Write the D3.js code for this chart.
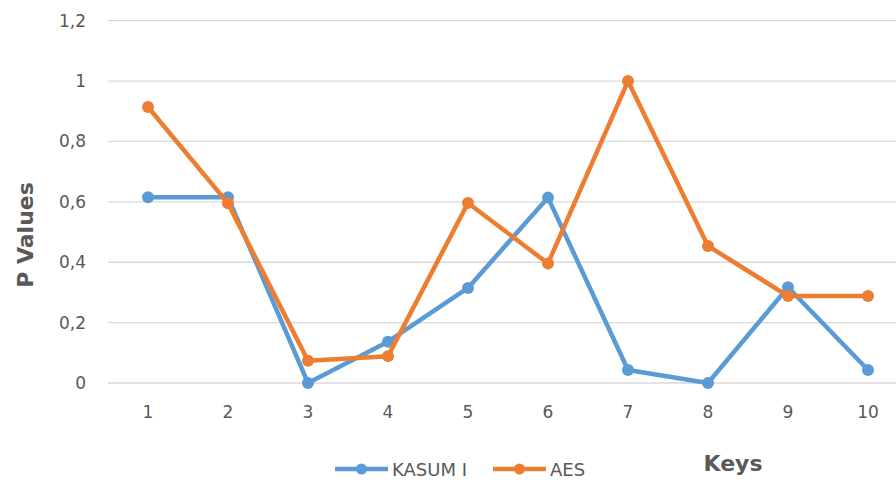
<!DOCTYPE html>
<html>
<head>
<meta charset="utf-8">
<script src="https://cdn.jsdelivr.net/npm/d3@7"></script>
<style>
  html, body { margin: 0; padding: 0; background: #fff; }
  svg { display: block; }
</style>
</head>
<body>
<svg id="chart" width="896" height="484"></svg>
<script>
  // chart data
  const keys = [1, 2, 3, 4, 5, 6, 7, 8, 9, 10];
  const kasumi = [0.615, 0.615, 0.0, 0.137, 0.315, 0.614, 0.043, 0.0, 0.317, 0.043];
  const aes = [0.914, 0.595, 0.074, 0.089, 0.596, 0.396, 1.0, 0.454, 0.288, 0.288];
  const yTicks = [0, 0.2, 0.4, 0.6, 0.8, 1, 1.2];
  const seriesNames = ['KASUM I', 'AES'];

  const series = [
    { name: seriesNames[0], values: kasumi, color: '#5b9bd5' },
    { name: seriesNames[1], values: aes, color: '#ed7d31' },
  ];

  const svg = d3.select('#chart');
  const font = '"DejaVu Sans", "Open Sans", sans-serif';
  const textColor = '#595959';

  const x = d3.scaleBand().domain(keys).range([108, 908]).padding(0);
  const y = d3.scaleLinear().domain([0, 1.2]).range([383, 20.7]);
  const cx = (k) => x(k) + x.bandwidth() / 2;
  const fmt = (v) => String(v).replace('.', ',');

  // gridlines
  svg.append('g')
    .selectAll('line')
    .data(yTicks)
    .join('line')
    .attr('x1', 108)
    .attr('x2', 908)
    .attr('y1', (d) => y(d))
    .attr('y2', (d) => y(d))
    .attr('stroke', '#d9d9d9')
    .attr('stroke-width', 1.3);

  // y axis labels
  const yAxis = svg.append('g')
    .attr('transform', 'translate(86,0)')
    .call(d3.axisLeft(y).tickValues(yTicks).tickFormat(fmt).tickSize(0).tickPadding(0));
  yAxis.select('.domain').remove();
  yAxis.selectAll('text')
    .attr('font-family', font)
    .attr('font-size', 17)
    .attr('fill', textColor);

  // x axis labels
  const xAxis = svg.append('g')
    .attr('transform', 'translate(0,406)')
    .call(d3.axisBottom(x).tickSize(0).tickPadding(0));
  xAxis.select('.domain').remove();
  xAxis.selectAll('text')
    .attr('font-family', font)
    .attr('font-size', 17)
    .attr('fill', textColor);

  // lines + markers
  const line = d3.line()
    .x((d, i) => cx(keys[i]))
    .y((d) => y(d));

  series.forEach((s) => {
    const g = svg.append('g');
    g.append('path')
      .datum(s.values)
      .attr('d', line)
      .attr('fill', 'none')
      .attr('stroke', s.color)
      .attr('stroke-width', 4.5)
      .attr('stroke-linejoin', 'round')
      .attr('stroke-linecap', 'round');
    g.selectAll('circle')
      .data(s.values)
      .join('circle')
      .attr('cx', (d, i) => cx(keys[i]))
      .attr('cy', (d) => y(d))
      .attr('r', 6)
      .attr('fill', s.color);
  });

  // axis titles
  svg.append('text')
    .attr('transform', 'translate(33,235) rotate(-90)')
    .attr('text-anchor', 'middle')
    .attr('font-family', font)
    .attr('font-size', 22)
    .attr('font-weight', 'bold')
    .attr('fill', textColor)
    .text('P Values');

  svg.append('text')
    .attr('x', 733)
    .attr('y', 471)
    .attr('text-anchor', 'middle')
    .attr('font-family', font)
    .attr('font-size', 22)
    .attr('font-weight', 'bold')
    .attr('fill', textColor)
    .text('Keys');

  // legend
  const legendPos = [335, 493];
  series.forEach((s, i) => {
    const g = svg.append('g').attr('transform', `translate(${legendPos[i]},469)`);
    g.append('line')
      .attr('x1', 0).attr('x2', 53)
      .attr('y1', 0).attr('y2', 0)
      .attr('stroke', s.color)
      .attr('stroke-width', 4.5);
    g.append('circle')
      .attr('cx', 26.5).attr('cy', 0).attr('r', 5.5)
      .attr('fill', s.color);
    g.append('text')
      .attr('x', 57)
      .attr('y', 6.5)
      .attr('font-family', font)
      .attr('font-size', 18)
      .attr('fill', textColor)
      .text(s.name);
  });
</script>
</body>
</html>
